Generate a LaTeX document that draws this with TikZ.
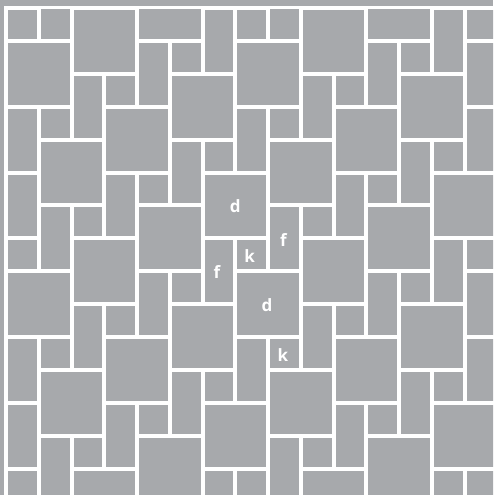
\documentclass[tikz,border=0pt]{standalone}
\usepackage{fontspec}
\newfontfamily\lblfont{Open Sans}
\definecolor{tilegray}{RGB}{167,169,172}
\begin{document}
\begin{tikzpicture}[x=1pt,y=-1pt,
  tile/.style={fill=tilegray,draw=none},
  lbl/.style={text=white,font=\lblfont\bfseries\fontsize{17}{17}\selectfont,inner sep=0pt}]
\useasboundingbox (0,0) rectangle (493,495);
\fill[white] (0,0) rectangle (493,495);
\fill[tilegray] (0,0) rectangle (493,6);
\fill[tilegray] (0,0) rectangle (4,495);
\def\ux{32.75}
\def\uy{32.9}
\begin{scope}
\clip (8,10) rectangle (493,495);
\foreach \m in {-8,...,6}{
  \foreach \n in {-4,...,7}{
    \pgfmathtruncatemacro{\cx}{7+2*\m+\n}
    \pgfmathtruncatemacro{\cy}{1-\m+3*\n}
    % large square d (2x2)
    \fill[tile] ({6+\cx*\ux+2},{8+\cy*\uy+2}) rectangle ({6+(\cx+2)*\ux-2},{8+(\cy+2)*\uy-2});
    % small square k (1x1) above the left column of d
    \fill[tile] ({6+\cx*\ux+2},{8+(\cy-1)*\uy+2}) rectangle ({6+(\cx+1)*\ux-2},{8+\cy*\uy-2});
    % rectangle f (1x2) to the left
    \fill[tile] ({6+(\cx-1)*\ux+2},{8+(\cy-1)*\uy+2}) rectangle ({6+\cx*\ux-2},{8+(\cy+1)*\uy-2});
  }
}
\end{scope}
\node[lbl] (d1) at ({6+7*\ux},{8+6*\uy+1}) {d};
\node[lbl] (k1) at ({6+7.5*\ux-2},{8+7.5*\uy+1.5}) {k};
\node[lbl] (f1) at ({6+8.5*\ux-1},{8+7*\uy+2}) {f};
\node[lbl] (f2) at ({6+6.5*\ux-2},{8+8*\uy+1}) {f};
\node[lbl] (d2) at ({6+8*\ux-1},{8+9*\uy+1}) {d};
\node[lbl] (k2) at ({6+8.5*\ux-1.5},{8+10.5*\uy+2}) {k};
\end{tikzpicture}
\end{document}
